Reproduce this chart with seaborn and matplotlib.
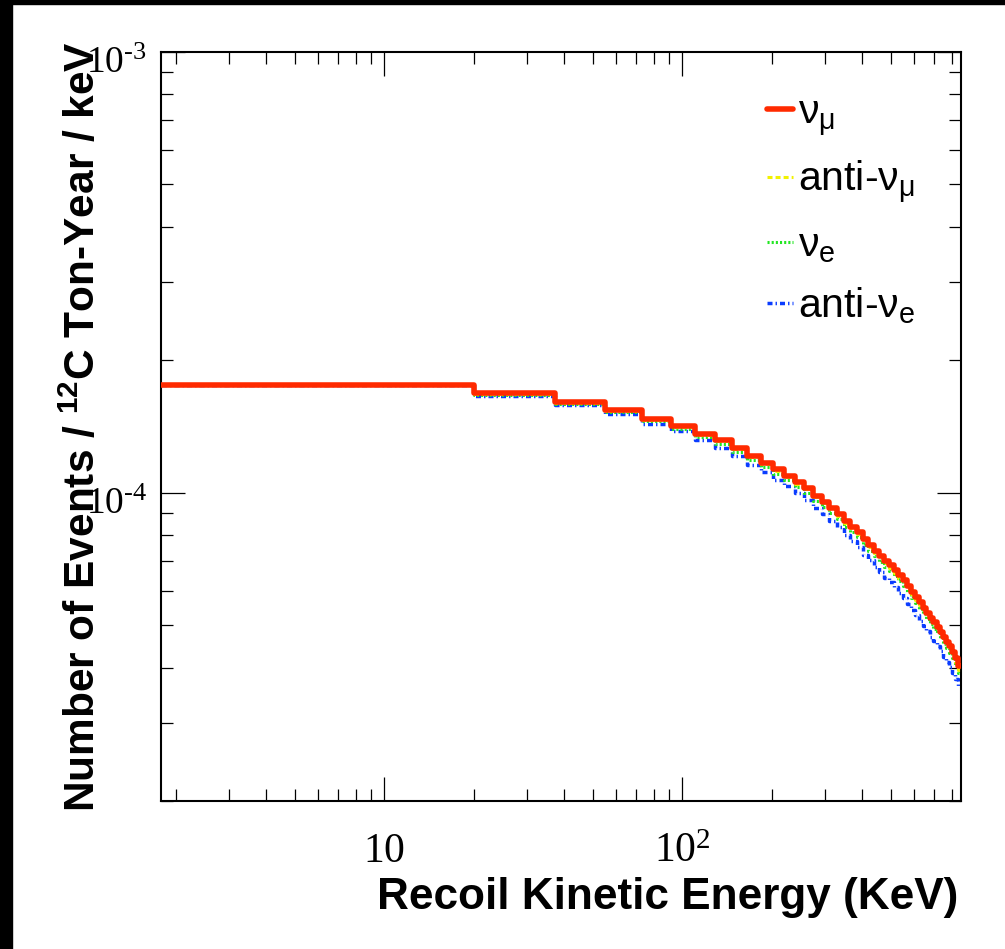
import numpy as np
import pandas as pd
import matplotlib
matplotlib.use("Agg")
import matplotlib.pyplot as plt
import matplotlib.ticker as mticker
import matplotlib.transforms as mtransforms
from matplotlib.patches import Rectangle
import seaborn as sns

# histogram bin edges (keV), 47 bins
bin_edges = [0.0, 20.0, 37.5, 54.9, 73.2, 91.5, 109.8, 128.1, 146.4, 164.7,
             183.0, 201.3, 219.6, 237.9, 256.2, 274.5, 292.8, 311.1, 329.4, 347.7,
             366.0, 384.3, 402.6, 420.9, 439.2, 457.5, 475.8, 494.1, 512.4, 530.7,
             549.0, 567.3, 585.6, 603.9, 622.2, 640.5, 658.8, 677.1, 695.4, 713.7,
             732.0, 750.3, 768.6, 786.9, 805.2, 823.5, 841.8, 860.1]

# bin contents, in units of 1e-4 events / ton-year / keV
nu_mu = [1.759, 1.679, 1.607, 1.542, 1.473, 1.420, 1.362, 1.315, 1.262, 1.210,
         1.169, 1.129, 1.094, 1.057, 1.025, 0.985, 0.955, 0.925, 0.895, 0.862,
         0.838, 0.815, 0.784, 0.761, 0.739, 0.720, 0.700, 0.684, 0.667, 0.650,
         0.633, 0.615, 0.597, 0.580, 0.564, 0.549, 0.535, 0.521, 0.509, 0.496,
         0.484, 0.471, 0.459, 0.448, 0.436, 0.421, 0.405]
anti_nu_mu = [1.759, 1.673, 1.600, 1.535, 1.465, 1.412, 1.354, 1.307, 1.254, 1.202,
              1.161, 1.121, 1.086, 1.049, 1.017, 0.977, 0.947, 0.917, 0.887, 0.854,
              0.830, 0.807, 0.776, 0.753, 0.731, 0.712, 0.692, 0.676, 0.659, 0.642,
              0.625, 0.607, 0.589, 0.572, 0.556, 0.541, 0.527, 0.513, 0.501, 0.488,
              0.476, 0.463, 0.451, 0.440, 0.428, 0.413, 0.397]
nu_e = [1.759, 1.667, 1.591, 1.522, 1.451, 1.397, 1.337, 1.290, 1.237, 1.185,
        1.143, 1.103, 1.068, 1.031, 0.999, 0.959, 0.930, 0.900, 0.871, 0.838,
        0.815, 0.792, 0.761, 0.739, 0.718, 0.698, 0.679, 0.663, 0.647, 0.630,
        0.613, 0.596, 0.578, 0.561, 0.546, 0.531, 0.518, 0.504, 0.492, 0.480,
        0.468, 0.455, 0.444, 0.433, 0.421, 0.407, 0.391]
anti_nu_e = [1.759, 1.659, 1.583, 1.508, 1.435, 1.377, 1.316, 1.265, 1.209, 1.156,
             1.113, 1.071, 1.035, 0.997, 0.964, 0.924, 0.894, 0.864, 0.834, 0.802,
             0.778, 0.755, 0.724, 0.702, 0.680, 0.661, 0.641, 0.626, 0.610, 0.593,
             0.577, 0.560, 0.543, 0.527, 0.512, 0.498, 0.485, 0.472, 0.460, 0.448,
             0.437, 0.424, 0.413, 0.403, 0.391, 0.378, 0.363]

series_names = ["nu_mu", "anti_nu_mu", "nu_e", "anti_nu_e"]
series_values = [nu_mu, anti_nu_mu, nu_e, anti_nu_e]
legend_labels = [r"ν$_{\mathsf{\mu}}$", r"anti-ν$_{\mathsf{\mu}}$",
                 r"ν$_{\mathsf{e}}$", r"anti-ν$_{\mathsf{e}}$"]
colors = ["#ff2a00", "#f2f200", "#22e622", "#0a3cff"]
widths = [4.0, 2.2, 2.2, 2.5]
styles = ["-", (0, (3.6, 2.2)), (0, (1.5, 1.5)), (0, (3.6, 2.2, 1.0, 2.2))]
zorders = [5, 4, 3, 2]

x_ticks = [10, 100]
x_ticklabels = [r"$\mathrm{10}$", r"$\mathrm{10^{2}}$"]
y_ticks = [1e-4, 1e-3]
y_ticklabels = ["$\\mathrm{10^{\u20104}}$", "$\\mathrm{10^{\u20103}}$"]

rows = []
for name, vals in zip(series_names, series_values):
    ys = list(vals) + [vals[-1]]
    for e, v in zip(bin_edges, ys):
        rows.append({"flavor": name, "energy": e, "rate": v * 1e-4})
df = pd.DataFrame(rows)

sns.set_style("white")
plt.rcParams["font.family"] = ["Liberation Sans", "DejaVu Sans"]
plt.rcParams["mathtext.fontset"] = "custom"
plt.rcParams["mathtext.rm"] = "Liberation Serif"
plt.rcParams["mathtext.sf"] = "Liberation Sans"
plt.rcParams["mathtext.it"] = "Liberation Sans"
plt.rcParams["mathtext.bf"] = "Liberation Sans:bold"
plt.rcParams["lines.scale_dashes"] = False
for key in ["text.color", "axes.labelcolor", "xtick.color", "ytick.color", "axes.edgecolor"]:
    plt.rcParams[key] = "black"

fig = plt.figure(figsize=(10.05, 9.49), dpi=100)
ax = fig.add_axes([0.1602, 0.1560, 0.7960, 0.7895])

for name, c, lw, ls, z in zip(series_names, colors, widths, styles, zorders):
    sns.lineplot(data=df[df["flavor"] == name], x="energy", y="rate",
                 color=c, linewidth=lw, linestyle=ls, drawstyle="steps-post",
                 estimator=None, sort=False, ax=ax, zorder=z)

ax.set_xscale("log")
ax.set_yscale("log")
ax.set_xlim(1.78, 860.1)
ax.set_ylim(2e-5, 1e-3)

ax.xaxis.set_major_locator(mticker.FixedLocator(x_ticks))
ax.xaxis.set_major_formatter(mticker.FixedFormatter(x_ticklabels))
ax.xaxis.set_minor_locator(mticker.LogLocator(base=10, subs=np.arange(2, 10), numticks=50))
ax.xaxis.set_minor_formatter(mticker.NullFormatter())
ax.yaxis.set_major_locator(mticker.FixedLocator(y_ticks))
ax.yaxis.set_major_formatter(mticker.FixedFormatter(y_ticklabels))
ax.yaxis.set_minor_locator(mticker.LogLocator(base=10, subs=np.arange(2, 10), numticks=50))
ax.yaxis.set_minor_formatter(mticker.NullFormatter())

ax.tick_params(which="both", direction="in", top=True, right=True, bottom=True, left=True,
               width=0.9, color="black", labelcolor="black")
ax.tick_params(which="major", length=17)
ax.tick_params(which="minor", length=8.5)
ax.tick_params(axis="x", which="major", pad=44, labelsize=30)
ax.tick_params(axis="y", which="major", pad=10, labelsize=27)
for t in ax.xaxis.get_major_ticks():
    t.label1.set_verticalalignment("baseline")
# ROOT puts the y labels a little below their ticks
shift = mtransforms.ScaledTranslation(0, -7 / 100, fig.dpi_scale_trans)
for t in ax.yaxis.get_major_ticks():
    t.label1.set_transform(t.label1.get_transform() + shift)

for sp in ax.spines.values():
    sp.set_linewidth(1.5)
    sp.set_color("black")

ax.set_xlabel("Recoil Kinetic Energy (KeV)", fontsize=31.8, fontweight="bold", ha="right")
ax.xaxis.set_label_coords(0.997, -0.102)
ax.set_ylabel(r"Number of Events / $^{\mathbf{12}}$C Ton-Year / keV",
              fontsize=30.5, fontweight="bold")
ax.yaxis.set_label_coords(-0.071, 0.5)

leg = ax.legend(handles=ax.get_lines(), labels=legend_labels, loc="upper left",
                bbox_to_anchor=(0.7575, 0.944), frameon=False, fontsize=29.5,
                handlelength=0.64, handletextpad=0.12, labelspacing=0.5,
                borderpad=0, borderaxespad=0)

# black strips at the left and top edges of the picture
fig.patches.append(Rectangle((0, 0), 12 / 1005, 1, transform=fig.transFigure,
                             color="black", zorder=10))
fig.patches.append(Rectangle((0, 1 - 4 / 949), 1, 4 / 949, transform=fig.transFigure,
                             color="black", zorder=10))

fig.savefig("out.png", dpi=100)
